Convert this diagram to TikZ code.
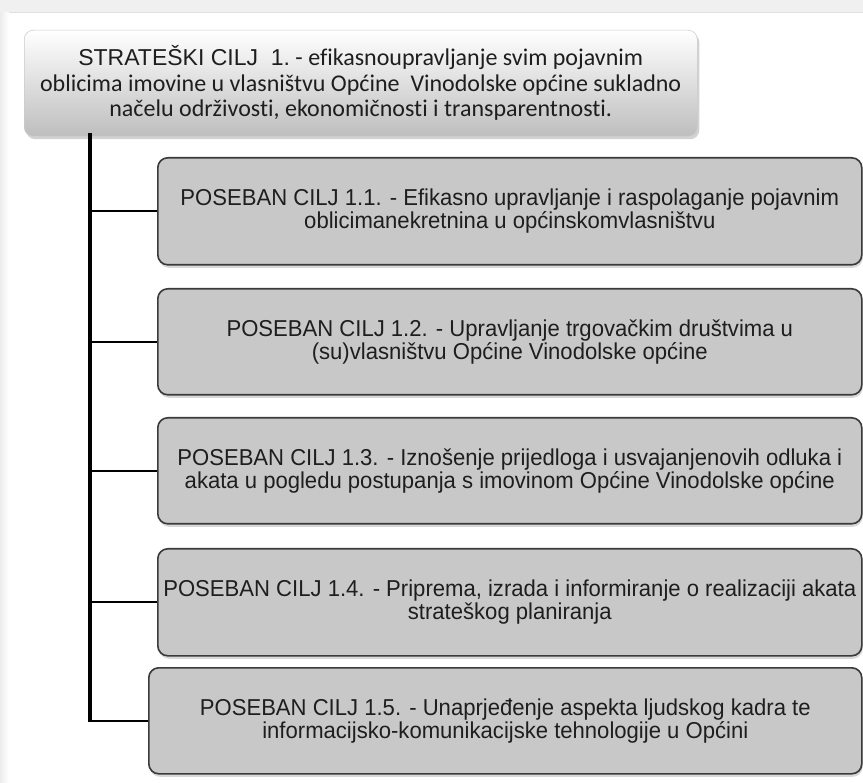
\documentclass[tikz,border=0pt]{standalone}
\usepackage{fontspec}
\setmainfont{Liberation Sans}
\newfontfamily\calib[Ligatures=NoCommon]{Carlito}
\newfontfamily\arialf{Liberation Sans}
\newfontfamily\narrowf[FakeStretch=0.96]{Liberation Sans}
\usetikzlibrary{shadows}
\definecolor{boxgray}{HTML}{C8C8C8}
\definecolor{edgegray}{HTML}{3A3A3A}
\definecolor{txt}{HTML}{1E1E1E}
\begin{document}
\begin{tikzpicture}[x=1pt,y=-1pt,
  topbox/.style={anchor=north west, rounded corners=9pt, top color=white, bottom color=boxgray!95!black,
    draw=gray!40, line width=0.5pt, drop shadow={shadow xshift=2pt, shadow yshift=-3pt, opacity=0.35},
    align=center, inner sep=0pt, text=txt},
  subbox/.style={anchor=north west, rounded corners=10pt, fill=boxgray, draw=edgegray, line width=1.6pt,
    drop shadow={shadow xshift=1pt, shadow yshift=-3pt, opacity=0.3},
    align=center, inner sep=0pt, text=txt, font=\narrowf\fontsize{23}{23}\selectfont},
  trunkline/.style={line width=3.5pt, black},
  branchline/.style={line width=2pt, black}]
\useasboundingbox (0,0) rectangle (863,783);
\fill[white] (0,0) rectangle (863,783);
\fill[gray!12] (0,0) rectangle (863,12);
\draw[gray!25, line width=1.5pt] (0,12.5) -- (863,12.5);
\shade[left color=gray!15, right color=white] (0,13) rectangle (9,783);

\node[topbox, minimum width=673pt, minimum height=106pt, font=\calib\fontsize{24}{25.5}\selectfont] (top) at (24,30)
  {{\arialf\fontsize{23}{25.5}\selectfont STRATEŠKI CILJ\ \ 1.}\ - efikasnoupravljanje svim pojavnim\\
   oblicima imovine u vlasništvu Općine\ \ Vinodolske općine sukladno\\
   načelu održivosti, ekonomičnosti i transparentnosti.};

\node[subbox, minimum width=704pt, minimum height=107pt] (b1) at (157,157)
  {POSEBAN CILJ 1.1. - Efikasno upravljanje i raspolaganje pojavnim\\oblicimanekretnina u općinskomvlasništvu};
\node[subbox, minimum width=704pt, minimum height=106pt] (b2) at (157,288)
  {POSEBAN CILJ 1.2. - Upravljanje trgovačkim društvima u\\(su)vlasništvu Općine Vinodolske općine};
\node[subbox, minimum width=704pt, minimum height=106pt] (b3) at (157,417)
  {POSEBAN CILJ 1.3. - Iznošenje prijedloga i usvajanjenovih odluka i\\akata u pogledu postupanja s imovinom Općine Vinodolske općine};
\node[subbox, minimum width=704pt, minimum height=107pt] (b4) at (157,548)
  {POSEBAN CILJ 1.4. - Priprema, izrada i informiranje o realizaciji akata\\strateškog planiranja};
\node[subbox, minimum width=713pt, minimum height=106pt] (b5) at (148,667)
  {POSEBAN CILJ 1.5. - Unaprjeđenje aspekta ljudskog kadra te\\informacijsko-komunikacijske tehnologije u Općini};

\coordinate (trunk) at (90,133);
\coordinate (trunkend) at (90,721.5);
\draw[trunkline] (trunk) -- (trunkend);
\foreach \b in {b1,b2,b3,b4,b5}
  \draw[branchline] (trunk |- \b.west) -- (\b.west);
\end{tikzpicture}
\end{document}
